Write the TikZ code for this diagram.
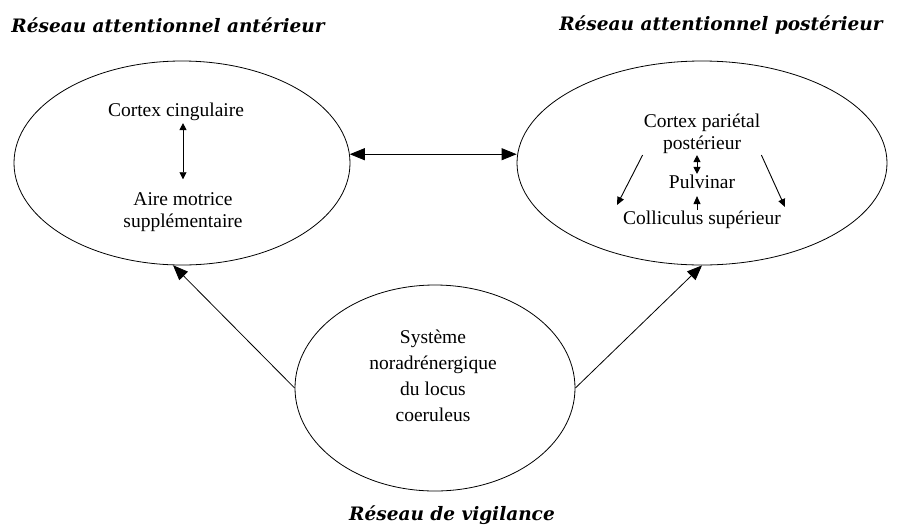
\documentclass[tikz,border=0pt]{standalone}
\usepackage{fontspec}
\setmainfont{Liberation Serif}
\newfontfamily\titrefont{DejaVu Serif}
\usetikzlibrary{shapes.geometric,arrows.meta}

\begin{document}
\begin{tikzpicture}[x=1pt,y=-1pt,
  bulle/.style={draw,ellipse,line width=0.8pt,inner sep=0pt},
  titre/.style={font=\titrefont\fontsize{18.5}{22}\selectfont\bfseries\itshape},
  txt/.style={font=\fontsize{19.5}{22}\selectfont,align=center,inner sep=1pt},
  grande/.style={line width=0.8pt,-{Triangle[length=15pt,width=12pt]}},
  deuxg/.style={line width=0.8pt,{Triangle[length=15pt,width=12pt]}-{Triangle[length=15pt,width=12pt]}},
  petite/.style={line width=0.9pt,-{Triangle[length=8pt,width=7pt]}},
  deuxp/.style={line width=0.9pt,{Triangle[length=7pt,width=7pt]}-{Triangle[length=7pt,width=7pt]}}]
  \useasboundingbox (0,0) rectangle (902,528);
  \node [bulle,minimum width=336,minimum height=204] (ant) at (182,163) {};
  \node [bulle,minimum width=370,minimum height=204] (post) at (702,163) {};
  \node [bulle,minimum width=280,minimum height=206] (vig) at (435,388) {};
  \node [titre] (tant) at (168,25) {Réseau attentionnel antérieur};
  \node [titre] (tpost) at (721,25) {Réseau attentionnel postérieur};
  \node [titre] (tvig) at (452,515) {Réseau de vigilance};
  \node [txt] (cc) at (176,112) {Cortex cingulaire};
  \node [txt] (ams) at (183,212) {Aire motrice\\supplémentaire};
  \node [txt] (cpp) at (702,134) {Cortex pariétal\\postérieur};
  \node [txt] (pulv) at (702,182) {Pulvinar};
  \node [txt] (coll) at (702,220) {Colliculus supérieur};
  \node [txt,font=\fontsize{19.5}{26}\selectfont] (sys) at (433,376) {Système\\noradrénergique\\du locus\\coeruleus};
  \coordinate (gauche) at (617,205);
  \coordinate (droite) at (785,207);
  \draw [deuxg] (ant.3.3) -- (ant.3.3 -| post.west);
  \draw [grande] (vig.west) -- (ant.265);
  \draw [grande] (vig.east) -- (post.south);
  \draw [deuxp,shorten <=1pt,shorten >=12pt] (cc.south -| ams.north) -- (ams.north);
  \draw [deuxp] (cpp.south -| 697,0) -- (pulv.north -| 697,0);
  \draw [petite,shorten >=6pt] (coll.north -| 697,0) -- (pulv.south -| 697,0);
  \draw [petite] (cpp.south west) -- (gauche);
  \draw [petite] (cpp.south east) -- (droite);
\end{tikzpicture}
\end{document}
